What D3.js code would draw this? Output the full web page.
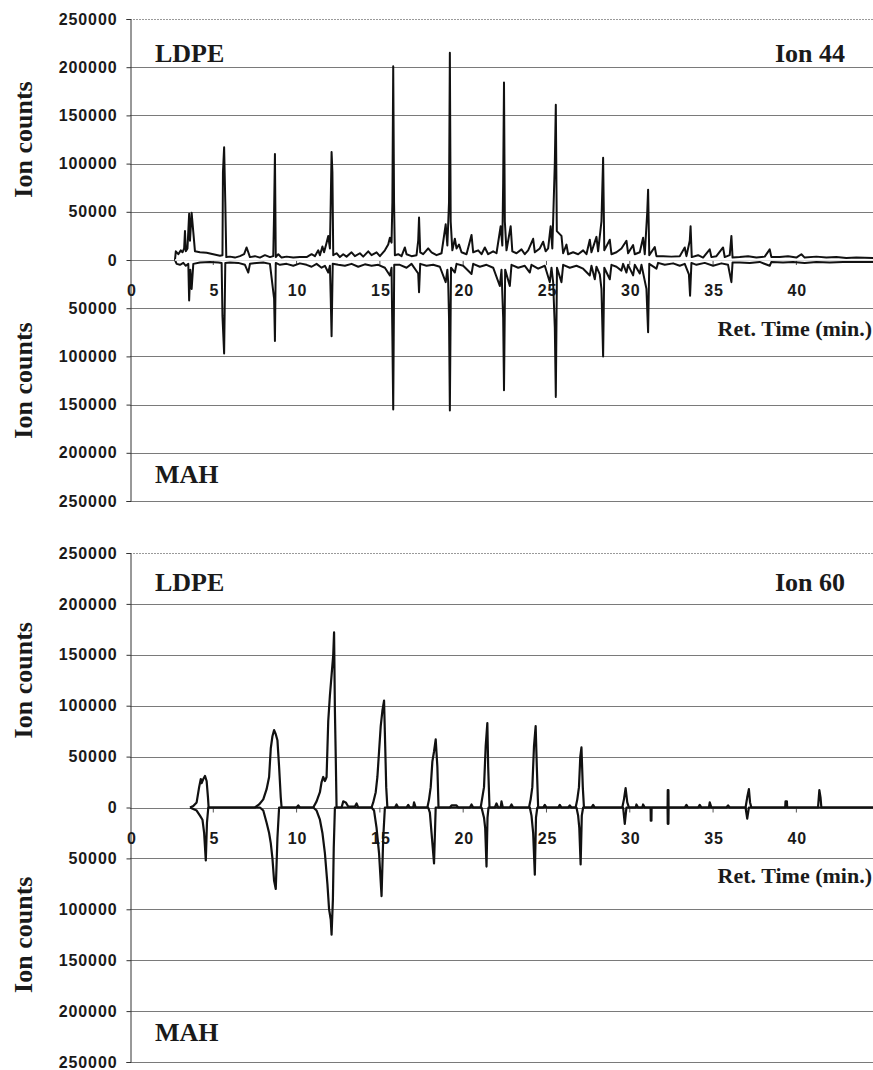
<!DOCTYPE html>
<html>
<head>
<meta charset="utf-8">
<script src="https://cdn.jsdelivr.net/npm/d3@7"></script>
<style>
    html, body { margin: 0; padding: 0; background: #fff; }
    svg { display: block; }
    .tick-label { font-family: "Liberation Sans", Arial, sans-serif; font-weight: bold; font-size: 16px; letter-spacing: 0.9px; fill: #1a1a1a; }
    .panel-label { font-family: "Liberation Serif", "Times New Roman", serif; font-weight: bold; font-size: 26px; fill: #1a1a1a; }
    .axis-title { font-family: "Liberation Serif", "Times New Roman", serif; font-weight: bold; font-size: 26px; fill: #1a1a1a; }
    .time-title { font-family: "Liberation Serif", "Times New Roman", serif; font-weight: bold; font-size: 22px; fill: #1a1a1a; }
</style>
</head>
<body>
<div id="chart"></div>
<script>
'use strict';

// tick values
var timeTicks = [0, 5, 10, 15, 20, 25, 30, 35, 40];
var countTicks = [250000, 200000, 150000, 100000, 50000, 0, -50000, -100000, -150000, -200000, -250000];

// Ion 44, LDPE (upward) [ret. time min, ion counts]
var ion44LDPE = [
    [2.70, 0], [2.75, 9000], [2.9, 6000], [3.05, 10000], [3.15, 8000], [3.25, 12000], [3.3, 30000], [3.35, 9000], [3.45, 12000],
    [3.55, 48000], [3.6, 20000], [3.7, 49000], [3.8, 29000], [3.9, 9000], [4.2, 8000], [4.6, 7500], [5.0, 6000], [5.4, 4500],
    [5.55, 5000], [5.58, 91000], [5.65, 117000], [5.72, 60000], [5.78, 3000], [6.0, 3500], [6.3, 2500], [6.6, 4000], [6.85, 6000],
    [7.0, 13000], [7.1, 8000], [7.2, 3000], [7.5, 4000], [7.8, 2500], [8.1, 5000], [8.4, 3000], [8.6, 4000], [8.65, 50000],
    [8.7, 110000], [8.75, 3000], [8.9, 6000], [9.1, 2500], [9.4, 3500], [9.8, 2500], [10.2, 3000], [10.6, 3000], [10.9, 6000],
    [11.1, 4000], [11.3, 10000], [11.4, 5000], [11.55, 14000], [11.65, 8000], [11.8, 18000], [11.9, 25000], [12.0, 12000],
    [12.05, 60000], [12.1, 112000], [12.15, 91000], [12.2, 5000], [12.4, 7000], [12.6, 3000], [12.8, 6000], [13.0, 3500],
    [13.3, 8000], [13.5, 4000], [13.8, 7000], [14.0, 3500], [14.3, 9000], [14.5, 5000], [14.8, 8000], [15.0, 4000], [15.3, 10000],
    [15.5, 16000], [15.6, 23000], [15.7, 18000], [15.75, 60000], [15.8, 201000], [15.85, 60000], [15.9, 5000], [16.1, 6000],
    [16.3, 4000], [16.5, 13000], [16.6, 6000], [16.9, 4000], [17.2, 5000], [17.3, 20000], [17.35, 44000], [17.42, 8000],
    [17.6, 6000], [17.9, 12000], [18.1, 8000], [18.4, 5000], [18.7, 7000], [18.95, 37000], [19.05, 15000], [19.15, 60000],
    [19.2, 215000], [19.25, 40000], [19.35, 10000], [19.5, 22000], [19.6, 12000], [19.75, 16000], [19.9, 8000], [20.2, 6000],
    [20.5, 26000], [20.6, 8000], [20.9, 10000], [21.1, 6000], [21.3, 13000], [21.5, 6000], [21.8, 9000], [22.0, 7000],
    [22.25, 35000], [22.35, 15000], [22.4, 80000], [22.45, 184000], [22.5, 40000], [22.6, 10000], [22.85, 35000], [22.95, 9000],
    [23.2, 7000], [23.5, 11000], [23.7, 6000], [23.9, 10000], [24.2, 22000], [24.3, 8000], [24.6, 12000], [24.8, 19000],
    [24.95, 9000], [25.1, 12000], [25.25, 35000], [25.35, 12000], [25.5, 100000], [25.56, 161000], [25.62, 30000], [25.9, 25000],
    [26.0, 7000], [26.2, 16000], [26.3, 6000], [26.6, 8000], [26.9, 6000], [27.2, 10000], [27.4, 6000], [27.6, 21000],
    [27.7, 8000], [28.0, 24000], [28.1, 9000], [28.3, 40000], [28.4, 106000], [28.47, 10000], [28.8, 21000], [28.9, 6000],
    [29.2, 8000], [29.5, 12000], [29.8, 20000], [29.9, 7000], [30.2, 15500], [30.3, 6000], [30.6, 8000], [30.8, 23000],
    [30.9, 6000], [31.05, 50000], [31.1, 73000], [31.17, 5000], [31.5, 13500], [31.6, 4000], [32.0, 4000], [32.5, 3500],
    [33.0, 4000], [33.3, 13000], [33.4, 4000], [33.6, 20000], [33.65, 35000], [33.72, 3000], [34.1, 5000], [34.4, 2500],
    [34.8, 11000], [34.9, 3000], [35.2, 4000], [35.6, 13000], [35.7, 3000], [36.0, 5000], [36.1, 25000], [36.17, 2500],
    [36.6, 3000], [37.1, 4000], [37.6, 2500], [38.1, 3500], [38.4, 11000], [38.5, 3000], [39.0, 3000], [39.5, 4000],
    [40.0, 2500], [40.3, 6000], [40.5, 2500], [41.2, 3500], [41.8, 2500], [42.4, 3000], [43.0, 2000], [43.6, 2500], [44.6, 2000]
];

// Ion 44, MAH (drawn downward)
var ion44MAH = [
    [2.7, 0], [2.8, 4000], [3.0, 5000], [3.2, 3000], [3.35, 6000], [3.5, 4000], [3.55, 42000], [3.62, 10000], [3.7, 30000],
    [3.8, 4000], [4.2, 2500], [4.8, 2000], [5.3, 2500], [5.5, 3000], [5.55, 58000], [5.65, 97000], [5.72, 3000], [6.0, 2500],
    [6.5, 3000], [6.9, 5000], [7.1, 13000], [7.2, 4000], [7.6, 3000], [8.0, 2500], [8.4, 4000], [8.65, 40000], [8.7, 84000],
    [8.75, 3000], [9.0, 5000], [9.4, 4000], [9.8, 6000], [10.2, 3500], [10.6, 5000], [10.9, 7000], [11.2, 4000], [11.5, 8000],
    [11.7, 6000], [11.9, 13000], [12.0, 6000], [12.05, 40000], [12.1, 79000], [12.17, 4000], [12.5, 5000], [12.9, 6000],
    [13.3, 4000], [13.7, 7000], [14.1, 4500], [14.5, 6000], [14.9, 5000], [15.3, 8000], [15.6, 16000], [15.7, 8000],
    [15.75, 80000], [15.8, 155000], [15.86, 5000], [16.2, 5000], [16.6, 8000], [16.9, 4000], [17.3, 14000], [17.35, 33500],
    [17.42, 4000], [17.8, 6000], [18.2, 5000], [18.6, 7000], [18.95, 23000], [19.05, 10000], [19.1, 23000], [19.15, 60000],
    [19.2, 156000], [19.27, 8000], [19.5, 13000], [19.6, 4000], [20.0, 6000], [20.5, 14500], [20.6, 4000], [21.0, 7000],
    [21.4, 5000], [21.8, 8000], [22.2, 27000], [22.3, 10000], [22.4, 60000], [22.45, 135000], [22.52, 10000], [22.8, 27000],
    [22.9, 5000], [23.3, 8000], [23.7, 6000], [24.0, 13000], [24.1, 5000], [24.5, 9000], [24.9, 6000], [25.2, 23000],
    [25.3, 8000], [25.4, 23000], [25.5, 70000], [25.56, 142000], [25.63, 8000], [25.9, 23000], [26.0, 5000], [26.4, 8000],
    [26.8, 6000], [27.2, 9000], [27.6, 16000], [27.7, 6000], [27.9, 20000], [28.0, 7000], [28.2, 15000], [28.3, 30000],
    [28.4, 100000], [28.47, 8000], [28.8, 20000], [28.9, 5000], [29.2, 7000], [29.5, 11000], [29.6, 4000], [29.8, 13000],
    [29.9, 5000], [30.2, 16000], [30.3, 5000], [30.6, 14000], [30.7, 5000], [31.0, 30000], [31.1, 75000], [31.17, 4000],
    [31.6, 9000], [31.7, 3000], [32.1, 5000], [32.6, 3500], [33.0, 6000], [33.3, 4000], [33.55, 15000], [33.62, 37000],
    [33.7, 3000], [34.0, 5000], [34.5, 3000], [35.0, 6000], [35.5, 3500], [35.9, 5000], [36.1, 23000], [36.17, 2500],
    [36.6, 2500], [37.2, 3000], [37.8, 2000], [38.4, 6000], [38.5, 2000], [39.2, 2500], [39.8, 2000], [40.5, 3000],
    [41.2, 2000], [42.0, 2500], [42.8, 2000], [43.6, 2000], [44.6, 2000]
];

// Ion 60, LDPE (upward)
var ion60LDPE = [
    [3.6, 0], [3.8, 1500], [4.0, 5000], [4.15, 20000], [4.25, 28000], [4.3, 24000], [4.4, 28000], [4.5, 31000], [4.6, 26000],
    [4.68, 10000], [4.72, 0], [7.5, 0], [7.75, 3000], [8.0, 8000], [8.2, 18000], [8.35, 30000], [8.45, 58000], [8.55, 70000],
    [8.65, 76000], [8.75, 72000], [8.85, 66000], [8.95, 40000], [9.05, 10000], [9.1, 0], [10.0, 0], [10.1, 2000], [10.2, 0],
    [11.0, 0], [11.2, 6000], [11.4, 15000], [11.5, 25000], [11.6, 30000], [11.7, 26000], [11.8, 30000], [11.9, 85000],
    [12.0, 110000], [12.1, 130000], [12.2, 150000], [12.25, 172000], [12.3, 95000], [12.35, 50000], [12.4, 0],
    [12.7, 0], [12.8, 6000], [12.95, 5000], [13.1, 1000], [13.5, 1000], [13.6, 4000], [13.7, 0], [14.5, 0], [14.6, 5000],
    [14.75, 15000], [14.85, 30000], [14.95, 55000], [15.05, 80000], [15.15, 95000], [15.25, 105000], [15.32, 60000],
    [15.38, 20000], [15.45, 0], [15.9, 0], [16.0, 3000], [16.1, 0], [16.6, 0], [16.7, 2500], [16.8, 0], [17.0, 0],
    [17.05, 5000], [17.15, 0], [17.85, 0], [17.95, 8000], [18.05, 20000], [18.15, 45000], [18.25, 55000], [18.35, 67000],
    [18.45, 40000], [18.52, 0], [19.2, 0], [19.3, 2000], [19.6, 2000], [19.7, 0], [20.4, 0], [20.5, 3000], [20.6, 0],
    [21.05, 0], [21.15, 10000], [21.25, 20000], [21.35, 60000], [21.45, 83000], [21.5, 40000], [21.58, 0], [21.9, 0],
    [22.0, 4000], [22.1, 0], [22.25, 0], [22.3, 6000], [22.38, 0], [22.8, 0], [22.9, 3000], [23.0, 0], [23.95, 0],
    [24.05, 8000], [24.15, 20000], [24.25, 60000], [24.35, 80000], [24.42, 40000], [24.5, 0], [24.8, 0], [24.9, 2500],
    [25.0, 0], [25.7, 0], [25.8, 2500], [25.9, 0], [26.3, 0], [26.4, 2000], [26.5, 0], [26.75, 0], [26.85, 8000],
    [26.95, 20000], [27.03, 50000], [27.1, 59000], [27.18, 20000], [27.25, 0], [27.7, 0], [27.8, 2500], [27.9, 0],
    [29.55, 0], [29.65, 8000], [29.75, 19000], [29.85, 5000], [29.95, 0], [30.35, 0], [30.4, 3000], [30.5, 0],
    [30.75, 0], [30.8, 3000], [30.9, 0], [32.27, 0], [32.28, 17000], [32.32, 17000], [32.33, 0], [33.3, 0], [33.4, 2500],
    [33.5, 0], [34.1, 0], [34.2, 2500], [34.3, 0], [34.75, 0], [34.8, 5000], [34.9, 0], [35.8, 0], [35.9, 2000], [36.0, 0],
    [36.95, 0], [37.05, 10000], [37.15, 18000], [37.22, 5000], [37.3, 0], [39.33, 0], [39.35, 6000], [39.43, 6000],
    [39.45, 0], [41.3, 0], [41.38, 17000], [41.45, 10000], [41.5, 0], [44.6, 0]
];

// Ion 60, MAH (drawn downward)
var ion60MAH = [
    [3.6, 0], [4.0, 3000], [4.2, 8000], [4.35, 12000], [4.45, 25000], [4.55, 52000], [4.62, 15000], [4.7, 0], [7.8, 0],
    [8.0, 3000], [8.2, 15000], [8.35, 25000], [8.45, 35000], [8.55, 50000], [8.65, 72000], [8.75, 80000], [8.85, 30000],
    [8.95, 0], [11.0, 0], [11.2, 3000], [11.4, 12000], [11.55, 25000], [11.7, 45000], [11.85, 75000], [11.95, 100000],
    [12.05, 110000], [12.1, 125000], [12.18, 90000], [12.23, 40000], [12.3, 0], [14.5, 0], [14.65, 3000], [14.8, 20000],
    [14.95, 45000], [15.1, 87000], [15.2, 30000], [15.3, 0], [17.9, 0], [18.0, 5000], [18.1, 25000], [18.25, 55000],
    [18.35, 0], [21.1, 0], [21.25, 10000], [21.32, 20000], [21.4, 58000], [21.46, 10000], [21.52, 0], [24.0, 0],
    [24.1, 8000], [24.2, 25000], [24.3, 66000], [24.37, 10000], [24.45, 0], [26.8, 0], [26.9, 8000], [26.97, 20000],
    [27.05, 56000], [27.12, 8000], [27.2, 0], [29.6, 0], [29.7, 16000], [29.8, 0], [31.25, 0], [31.26, 13000],
    [31.3, 13000], [31.31, 0], [32.27, 0], [32.28, 16000], [32.32, 16000], [32.33, 0], [36.95, 0], [37.05, 11000],
    [37.15, 0], [44.6, 0]
];

var width = 873,
    height = 1070;

var panels = [
    { top: 19, bottom: 501, ion: 'Ion 44', up: ion44LDPE, down: ion44MAH, stroke: 2, zeroWhite: true,
      titleY: 62, mahY: 483, retY: 336, tickY: 296 },
    { top: 553, bottom: 1062, ion: 'Ion 60', up: ion60LDPE, down: ion60MAH, stroke: 2.2, zeroWhite: false,
      titleY: 591, mahY: 1041, retY: 883, tickY: 844 }
];

var svg = d3.select('#chart')
    .append('svg')
    .attr('width', width)
    .attr('height', height)
    .attr('xmlns', 'http://www.w3.org/2000/svg');

var x = d3.scaleLinear()
    .domain([0, 44.6])
    .range([130, 873]);

panels.forEach(function(p) {
    var y = d3.scaleLinear()
        .domain([250000, -250000])
        .range([p.top, p.bottom]);

    var g = svg.append('g');

    // GRID LINES
    g.append('g')
        .selectAll('line').data(countTicks).enter()
        .append('line')
        .attr('x1', x(0))
        .attr('x2', width)
        .attr('y1', function(d) { return Math.round(y(d)) + 0.5; })
        .attr('y2', function(d) { return Math.round(y(d)) + 0.5; })
        .attr('stroke', function(d, i) { return i === 0 ? '#9a9a9a' : '#7a7a7a'; })
        .attr('stroke-dasharray', function(d, i) { return i === 0 ? '2,1' : null; })
        .attr('stroke-width', 1);

    // Y AXIS
    var yAxis = d3.axisLeft(y)
        .tickValues(countTicks)
        .tickSize(4)
        .tickPadding(9)
        .tickFormat(function(d) { return Math.abs(d); });

    var ya = g.append('g')
        .attr('transform', 'translate(' + (x(0) + 0.5) + ',0)')
        .call(yAxis);
    ya.select('.domain').attr('stroke', '#333');
    ya.selectAll('.tick line').attr('stroke', '#333');
    ya.selectAll('.tick text')
        .attr('class', 'tick-label')
        .attr('font-size', null)
        .attr('font-family', null);

    // X TICKS on zero line
    var xa = g.append('g');
    xa.selectAll('line').data(timeTicks.slice(1)).enter()
        .append('line')
        .attr('x1', function(d) { return x(d); })
        .attr('x2', function(d) { return x(d); })
        .attr('y1', y(0))
        .attr('y2', y(0) + 5)
        .attr('stroke', '#555');
    xa.selectAll('text').data(timeTicks).enter()
        .append('text')
        .attr('class', 'tick-label')
        .attr('x', function(d) { return x(d) + (d === 0 ? 2 : 1); })
        .attr('y', p.tickY)
        .attr('text-anchor', 'middle')
        .text(function(d) { return d; });

    // TRACES
    var upLine = d3.line()
        .x(function(d) { return x(d[0]); })
        .y(function(d) { return y(d[1]); });

    var downLine = d3.line()
        .x(function(d) { return x(d[0]); })
        .y(function(d) { return y(-d[1]); });

    g.append('path')
        .datum(p.down)
        .attr('d', downLine)
        .attr('fill', 'none')
        .attr('stroke', '#111')
        .attr('stroke-width', p.stroke)
        .attr('stroke-linejoin', 'round');

    g.append('path')
        .datum(p.up)
        .attr('d', upLine)
        .attr('fill', 'none')
        .attr('stroke', '#111')
        .attr('stroke-width', p.stroke)
        .attr('stroke-linejoin', 'round');

    if (p.zeroWhite) {
        g.append('line')
            .attr('x1', x(p.up[0][0]))
            .attr('x2', width)
            .attr('y1', y(0))
            .attr('y2', y(0))
            .attr('stroke', '#fff')
            .attr('stroke-width', 1.6);
    }

    // LABELS
    g.append('text')
        .attr('class', 'panel-label')
        .attr('x', 155)
        .attr('y', p.titleY)
        .text('LDPE');

    g.append('text')
        .attr('class', 'panel-label')
        .attr('x', 845)
        .attr('y', p.titleY)
        .attr('text-anchor', 'end')
        .text(p.ion);

    g.append('text')
        .attr('class', 'panel-label')
        .attr('x', 155)
        .attr('y', p.mahY)
        .text('MAH');

    g.append('text')
        .attr('class', 'time-title')
        .attr('x', 872)
        .attr('y', p.retY)
        .attr('text-anchor', 'end')
        .text('Ret. Time (min.)');

    [125000, -125000].forEach(function(v) {
        g.append('text')
            .attr('class', 'axis-title')
            .attr('transform', 'translate(32,' + y(v) + ') rotate(-90)')
            .attr('text-anchor', 'middle')
            .text('Ion counts');
    });
});
</script>
</body>
</html>
